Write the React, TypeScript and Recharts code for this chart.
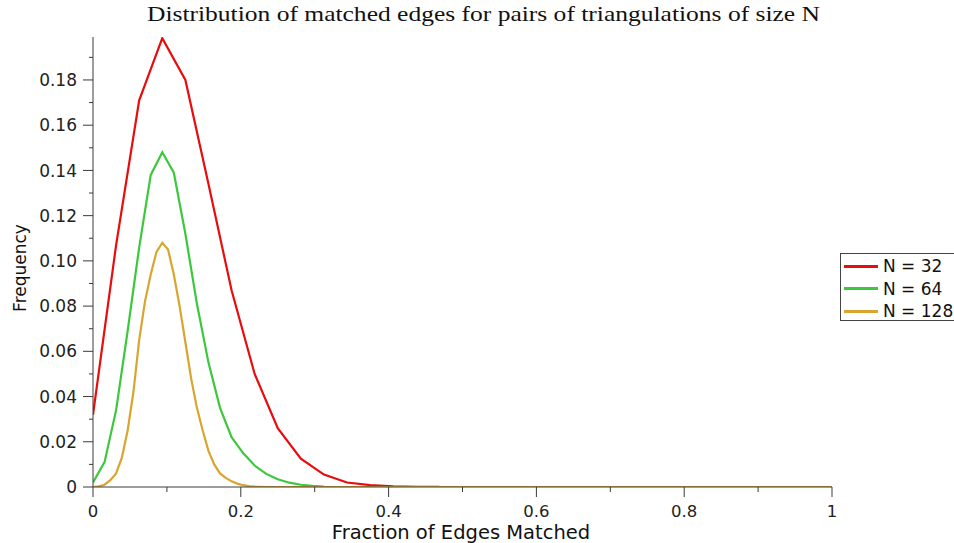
import React from "react";
import { LineChart, Line, XAxis, YAxis } from "recharts";

const titleText = "Distribution of matched edges for pairs of triangulations of size N";
const xLabel = "Fraction of Edges Matched";
const yLabel = "Frequency";

const n32X = [0, 0.03125, 0.0625, 0.09375, 0.125, 0.15625, 0.1875, 0.21875, 0.25, 0.28125, 0.3125, 0.34375, 0.375, 0.40625, 0.4375, 0.46875];
const n32Y = [0.032, 0.107, 0.171, 0.1985, 0.18, 0.134, 0.087, 0.05, 0.026, 0.0125, 0.0055, 0.002, 0.0008, 0.0003, 0.0001, 0.00003];

const n64X = [0, 0.015625, 0.03125, 0.046875, 0.0625, 0.078125, 0.09375, 0.109375, 0.125, 0.140625, 0.15625, 0.171875, 0.1875, 0.203125, 0.21875, 0.234375, 0.25, 0.265625, 0.28125, 0.296875, 0.3125];
const n64Y = [0.002, 0.011, 0.034, 0.069, 0.106, 0.138, 0.148, 0.139, 0.112, 0.081, 0.055, 0.035, 0.022, 0.015, 0.0095, 0.0058, 0.0034, 0.0019, 0.001, 0.0005, 0.0002];

const n128X = [0, 0.0078125, 0.015625, 0.0234375, 0.03125, 0.0390625, 0.046875, 0.0546875, 0.0625, 0.0703125, 0.078125, 0.0859375, 0.09375, 0.1015625, 0.109375, 0.1171875, 0.125, 0.1328125, 0.140625, 0.1484375, 0.15625, 0.1640625, 0.171875, 0.1796875, 0.1875, 0.1953125, 0.203125, 0.2109375, 0.21875, 0.2265625, 0.234375, 1];
const n128Y = [0, 0.0003, 0.001, 0.003, 0.006, 0.013, 0.025, 0.042, 0.065, 0.082, 0.094, 0.104, 0.108, 0.105, 0.094, 0.08, 0.064, 0.048, 0.035, 0.025, 0.016, 0.01, 0.006, 0.004, 0.0025, 0.0015, 0.0008, 0.0004, 0.0002, 0.0001, 0, 0];

const xTicks = [0, 0.1, 0.2, 0.3, 0.4, 0.5, 0.6, 0.7, 0.8, 0.9, 1];
const xTickLabels = ["0", "", "0.2", "", "0.4", "", "0.6", "", "0.8", "", "1"];
const yTicks = [0, 0.01, 0.02, 0.03, 0.04, 0.05, 0.06, 0.07, 0.08, 0.09, 0.1, 0.11, 0.12, 0.13, 0.14, 0.15, 0.16, 0.17, 0.18, 0.19];
const yTickLabels = ["0", "", "0.02", "", "0.04", "", "0.06", "", "0.08", "", "0.10", "", "0.12", "", "0.14", "", "0.16", "", "0.18", ""];

const toRows = (xs: number[], ys: number[]) => xs.map((x, i) => ({ x, y: ys[i] }));

const series = [
  { name: "N = 32", color: "#e80c0c", data: toRows(n32X, n32Y) },
  { name: "N = 64", color: "#3cc83c", data: toRows(n64X, n64Y) },
  { name: "N = 128", color: "#d8a630", data: toRows(n128X, n128Y) },
];

const SANS = "'DejaVu Sans', Verdana, sans-serif";
const AXIS = "#3a3a3a";
const TICK_SIZE = 10;
const Y_MARGIN = 6;
const X_MARGIN = 7;

const YTick = (props: any) => {
  const { x, y, index } = props;
  const label = yTickLabels[index] ?? "";
  const major = label !== "";
  const axisX = x + Y_MARGIN + TICK_SIZE;
  return (
    <g>
      <line x1={axisX - (major ? 10 : 4)} x2={axisX} y1={y} y2={y} stroke={AXIS} strokeWidth={1} />
      {major && (
        <text x={x} y={y} dy="0.36em" textAnchor="end" fontFamily={SANS} fontSize={17} fill="#222">
          {label}
        </text>
      )}
    </g>
  );
};

const XTick = (props: any) => {
  const { x, y, index } = props;
  const label = xTickLabels[index] ?? "";
  const major = label !== "";
  const axisY = y - X_MARGIN - TICK_SIZE;
  return (
    <g>
      <line x1={x} x2={x} y1={axisY} y2={axisY + (major ? 10 : 5)} stroke={AXIS} strokeWidth={1} />
      {major && (
        <text x={x} y={y} dy="0.78em" textAnchor="middle" fontFamily={SANS} fontSize={16.5} fill="#222">
          {label}
        </text>
      )}
    </g>
  );
};

const YLabel = (props: any) => {
  const vb = props.viewBox || {};
  const cx = vb.x + 20;
  const cy = vb.y + vb.height / 2 + 6;
  return (
    <text x={cx} y={cy} transform={`rotate(-90 ${cx} ${cy})`} dy="0.35em" textAnchor="middle" fontFamily={SANS} fontSize={17} fill="#111">
      {yLabel}
    </text>
  );
};

export default function App() {
  return (
    <div style={{ position: "absolute", left: 0, top: 0, width: 954, height: 543, overflow: "hidden", background: "#fff" }}>
      <svg style={{ position: "absolute", left: 0, top: 0 }} width={954} height={30}>
        <text
          x={483.5}
          y={21}
          textAnchor="middle"
          textLength={673}
          lengthAdjust="spacingAndGlyphs"
          fontFamily="'Liberation Serif', 'Times New Roman', serif"
          fontSize={21.5}
          fill="#111"
        >
          {titleText}
        </text>
      </svg>
      <div style={{ position: "absolute", left: 0, top: 0 }}>
        <LineChart width={954} height={543} margin={{ top: 37, right: 122, bottom: 0, left: 0 }}>
          <XAxis
            type="number"
            dataKey="x"
            domain={[0, 1]}
            ticks={xTicks}
            interval={0}
            height={56}
            stroke={AXIS}
            tickLine={false}
            tickSize={TICK_SIZE}
            tickMargin={X_MARGIN}
            tick={<XTick />}
            allowDataOverflow
          />
          <YAxis
            type="number"
            dataKey="y"
            domain={[0, 0.199]}
            ticks={yTicks}
            interval={0}
            width={93}
            stroke={AXIS}
            tickLine={false}
            tickSize={TICK_SIZE}
            tickMargin={Y_MARGIN}
            tick={<YTick />}
            label={<YLabel />}
            allowDataOverflow
          />
          {series.map((s) => (
            <Line
              key={s.name}
              data={s.data}
              dataKey="y"
              name={s.name}
              type="linear"
              stroke={s.color}
              strokeWidth={2.2}
              dot={false}
              isAnimationActive={false}
            />
          ))}
        </LineChart>
      </div>
      <svg style={{ position: "absolute", left: 0, top: 519 }} width={954} height={24}>
        <text x={461} y={20} textAnchor="middle" fontFamily={SANS} fontSize={19.5} fill="#111">
          {xLabel}
        </text>
      </svg>
      <div
        style={{
          position: "absolute",
          left: 840,
          top: 253,
          width: 130,
          height: 68,
          border: "1px solid #444",
          background: "#fff",
          fontFamily: SANS,
          fontSize: 17,
          color: "#111",
          boxSizing: "border-box",
          paddingTop: 1,
        }}
      >
        {series.map((s) => (
          <div key={s.name} style={{ display: "flex", alignItems: "center", height: 22.5, whiteSpace: "nowrap" }}>
            <span style={{ display: "inline-block", width: 34, height: 3, background: s.color, marginLeft: 3, marginRight: 5 }} />
            <span>{s.name}</span>
          </div>
        ))}
      </div>
    </div>
  );
}
